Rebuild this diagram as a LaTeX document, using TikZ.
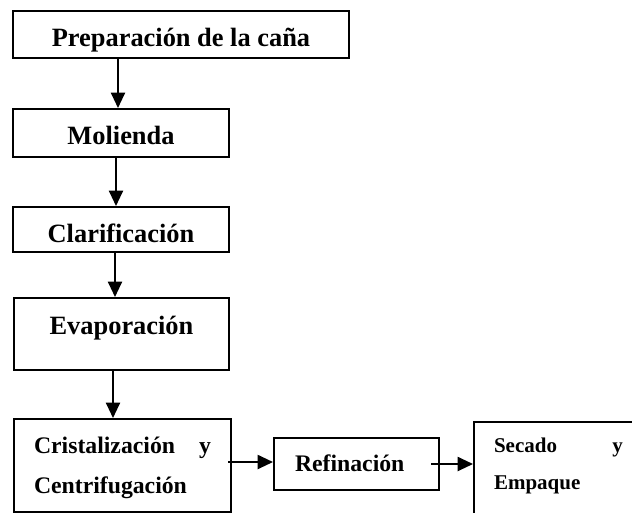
\documentclass[tikz,border=0pt]{standalone}
\usepackage{fontspec}
\setmainfont{Liberation Serif}
\usepackage{tikz}
\usetikzlibrary{arrows.meta, positioning, calc}
\tikzset{
  stagebox/.style={draw=black, line width=1.5pt, inner xsep=0pt, inner ysep=0pt,
                   anchor=north west, font=\fontsize{19.8}{24}\selectfont\bfseries},
  midbox/.style={stagebox, font=\fontsize{17.8}{30}\selectfont\bfseries},
  smallbox/.style={stagebox, font=\fontsize{15.75}{27.75}\selectfont\bfseries},
  flow/.style={-{Triangle[length=11.5pt, width=10.5pt]}, line width=1.5pt, draw=black},
}
\begin{document}
\begin{tikzpicture}[x=0.75pt, y=-0.75pt]
  \clip (0,0) rectangle (632,512);
  % main column
  \node[stagebox, minimum width=252pt, text height=26.25pt, text depth=9pt] (prep) at (12,10)
    {Preparación de la caña};
  \node[stagebox, minimum width=162pt, text height=26.25pt, text depth=9.75pt] (mol) at (12,108)
    {Molienda};
  \node[stagebox, minimum width=162pt, text height=26.25pt, text depth=7.5pt] (clar) at (12,206)
    {Clarificación};
  \node[stagebox, minimum width=161.25pt, text height=27pt, text depth=27pt] (evap) at (13,297)
    {Evaporación};
  \node[midbox, inner xsep=15pt, text width=132.75pt, align=left,
        text height=25.5pt, text depth=43.9pt] (crist) at (13,418)
    {Cristalización \hfill y\\Centrifugación};
  % bottom row
  \node[midbox, inner xsep=15.75pt, text width=92.25pt, align=left,
        text height=24.75pt, text depth=14.25pt] (refi) at (273,437)
    {Refinación};
  \node[smallbox, inner xsep=15pt, text width=96.75pt, align=left,
        text height=22.5pt, text depth=59pt] (seca) at (473,421)
    {Secado \hfill y\\Empaque};

  \draw[flow] ($(prep.south -| mol.north)+(-3,0)$) -- ($(mol.north)+(-3,0)$);
  \draw[flow] ($(mol.south)+(-5,0)$) -- ($(clar.north)+(-5,0)$);
  \draw[flow] ($(clar.south)+(-6,0)$) -- ($(clar.south |- evap.north)+(-6,0)$);
  \draw[flow] ($(evap.south)+(-8.5,0)$) -- ($(evap.south |- crist.north)+(-8.5,0)$);
  \coordinate (rin) at ($(refi.west)+(0,-2)$);
  \draw[flow] ($(crist.east |- rin)+(-4,0)$) -- (rin);
  \draw[flow] ($(refi.east)+(-9,0)$) -- (refi.east -| seca.west);
\end{tikzpicture}
\end{document}
